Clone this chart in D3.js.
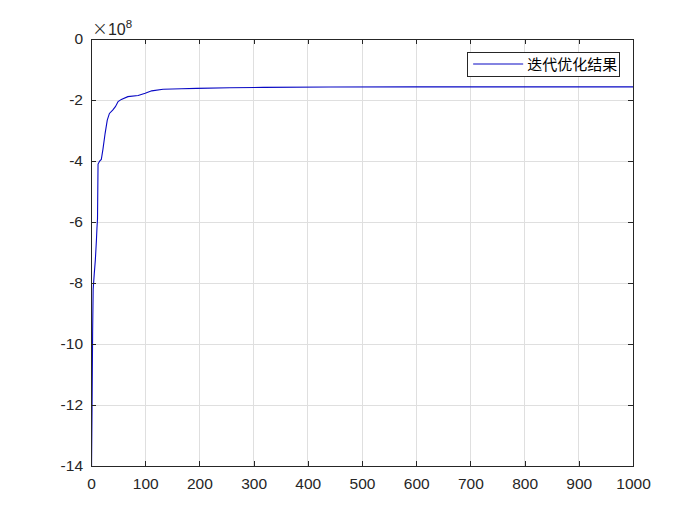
<!DOCTYPE html>
<html>
<head>
<meta charset="utf-8">
<script src="https://cdn.jsdelivr.net/npm/d3@7"></script>
<style>
  html, body { margin: 0; padding: 0; background: #fff; }
  svg { display: block; }
</style>
</head>
<body>
<svg id="chart" width="700" height="525"></svg>
<script>
// ---- data (values in units of 1e8) ----
const iterations = [1, 2, 3, 4, 6, 8, 10, 11, 12, 13, 16, 19, 22, 26, 30, 34, 40, 45, 50, 56, 68, 87, 100, 112, 133, 167, 195, 256, 318, 441, 600, 1000];
const values = [-14.0, -12.0, -9.6, -8.2, -7.7, -7.25, -6.6, -6.2, -5.9, -4.1, -4.0, -3.95, -3.62, -3.1, -2.66, -2.44, -2.33, -2.22, -2.05, -1.98, -1.89, -1.85, -1.78, -1.70, -1.65, -1.63, -1.62, -1.60, -1.585, -1.575, -1.57, -1.57];
const xTicks = [0, 100, 200, 300, 400, 500, 600, 700, 800, 900, 1000];
const yTicks = [0, -2, -4, -6, -8, -10, -12, -14];
const exponentLabel = "8";
const legendLabel = "迭代优化结果";

const svg = d3.select("#chart");
const m = { left: 91, top: 39, right: 67, bottom: 59 };
const W = 700 - m.left - m.right;
const H = 525 - m.top - m.bottom;
const axisColor = "#262626";
const lineColor = "#0808c4";
const font = "'Liberation Sans', Arial, Helvetica, sans-serif";

const x = d3.scaleLinear().domain([0, 1000]).range([0, W]);
const y = d3.scaleLinear().domain([-14, 0]).range([H, 0]);

const g = svg.append("g").attr("transform", `translate(${m.left},${m.top})`);

// grid
g.append("g").selectAll("line.gx").data(xTicks.slice(1, -1)).join("line")
  .attr("x1", d => x(d)).attr("x2", d => x(d)).attr("y1", 0).attr("y2", H)
  .attr("stroke", "#dfdfdf").attr("stroke-width", 1).attr("shape-rendering", "crispEdges");
g.append("g").selectAll("line.gy").data(yTicks.slice(1, -1)).join("line")
  .attr("y1", d => y(d)).attr("y2", d => y(d)).attr("x1", 0).attr("x2", W)
  .attr("stroke", "#dfdfdf").attr("stroke-width", 1).attr("shape-rendering", "crispEdges");

// line
const line = d3.line().x((d, i) => x(iterations[i])).y(d => y(d));
g.append("path").datum(values)
  .attr("d", line).attr("fill", "none")
  .attr("stroke", lineColor).attr("stroke-width", 1.1);

// axes
const tickLen = 5;
const xAxisB = d3.axisBottom(x).tickValues(xTicks).tickSize(-tickLen).tickPadding(12).tickFormat(d3.format("d"));
const xAxisT = d3.axisTop(x).tickValues(xTicks).tickSize(-tickLen).tickFormat("");
const yAxisL = d3.axisLeft(y).tickValues(yTicks).tickSize(-tickLen).tickPadding(8).tickFormat(d => d === 0 ? "0" : "-" + Math.abs(d));
const yAxisR = d3.axisRight(y).tickValues(yTicks).tickSize(-tickLen).tickFormat("");

function style(sel) {
  sel.select(".domain").attr("stroke", axisColor).attr("stroke-width", 1);
  sel.selectAll(".tick line").attr("stroke", axisColor);
  sel.selectAll(".tick text").attr("fill", axisColor).style("font-family", font).style("font-size", "15.5px");
  sel.selectAll("path, line").attr("shape-rendering", "crispEdges");
}
g.append("g").attr("transform", `translate(0,${H})`).call(xAxisB).call(style);
g.append("g").call(xAxisT).call(style);
g.append("g").call(yAxisL).call(style);
g.append("g").attr("transform", `translate(${W},0)`).call(yAxisR).call(style);

// exponent label
const ex = g.append("text").attr("x", 1).attr("y", -4.5)
  .attr("fill", axisColor).style("font-family", font).style("font-size", "16px");
ex.append("tspan").style("font-size", "19px").style("font-family", "'DejaVu Sans', sans-serif").style("font-weight", "200").text("×");
ex.append("tspan").text("10");
ex.append("tspan").attr("dy", -7).style("font-size", "11.5px").text(exponentLabel);

// legend
const lg = g.append("g").attr("transform", `translate(${x(694)},${13})`);
lg.append("rect").attr("x", 0).attr("y", 0).attr("width", 152).attr("height", 24)
  .attr("fill", "#fff").attr("stroke", axisColor).attr("stroke-width", 1).attr("shape-rendering", "crispEdges");
lg.append("line").attr("x1", 6).attr("x2", 56).attr("y1", 12).attr("y2", 12)
  .attr("stroke", lineColor).attr("stroke-width", 1.1);
lg.append("text").attr("x", 60).attr("y", 17.5).text(legendLabel)
  .attr("fill", "#000").style("font-family", "'Noto Sans CJK SC', sans-serif").style("font-size", "15px");
</script>
</body>
</html>
